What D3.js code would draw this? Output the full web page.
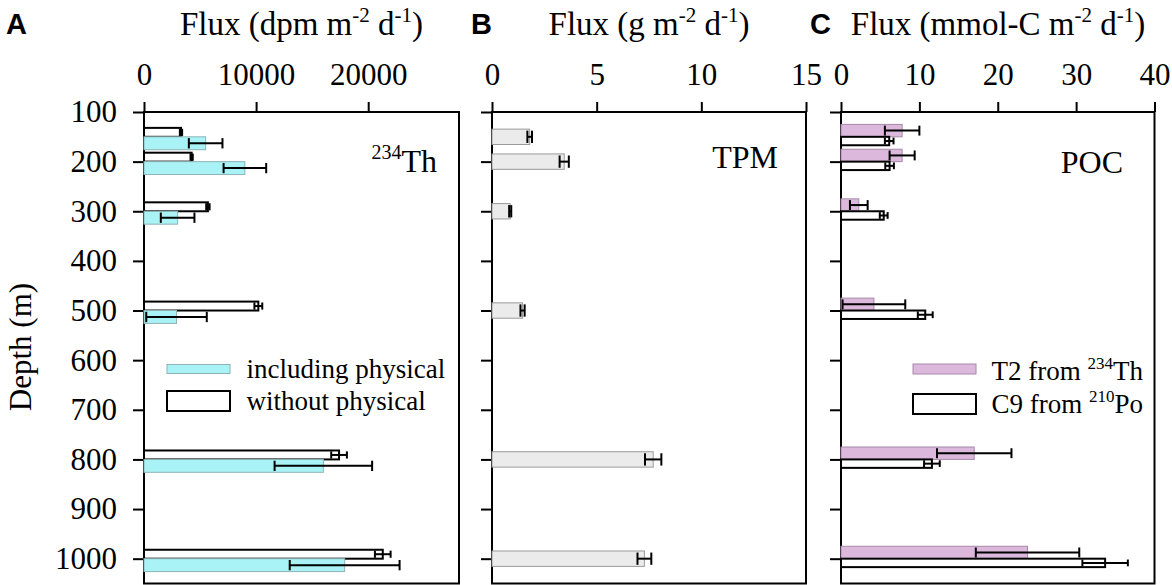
<!DOCTYPE html>
<html>
<head>
<meta charset="utf-8">
<script src="https://cdn.jsdelivr.net/npm/d3@7"></script>
<style>
  body { margin: 0; background: #fff; }
  svg { display: block; }
  text { font-family: "Liberation Serif", "Times New Roman", serif; fill: #000; }
  text.letter { font-family: "Liberation Sans", Arial, sans-serif; font-weight: bold; }
</style>
</head>
<body>
<svg id="chart" width="1172" height="585"></svg>
<script>
// depths (m) where fluxes were measured
var depths = [150, 200, 300, 500, 800, 1000];

// A: 234Th flux (dpm m-2 d-1)
var thIncl = [5500, 9000, 3000, 2900, 16000, 17900];
var thInclErr = [1500, 1900, 1500, 2700, 4350, 4900];
var thWithout = [3300, 4250, 5700, 10200, 17400, 21300];
var thWithoutErr = [100, 100, 150, 350, 700, 700];

// B: TPM flux (g m-2 d-1)
var tpm = [1.8, 3.45, 0.87, 1.46, 7.7, 7.28];
var tpmErr = [0.11, 0.22, 0.05, 0.1, 0.39, 0.33];

// C: POC flux (mmol-C m-2 d-1)
var pocT2 = [7.8, 7.8, 2.27, 4.2, 17.0, 23.8];
var pocT2Err = [2.2, 1.6, 1.13, 4.0, 4.75, 6.6];
var pocC9 = [6.15, 6.2, 5.45, 10.75, 11.6, 33.7];
var pocC9Err = [0.55, 0.55, 0.5, 0.95, 1.0, 2.9];

// tick labels
var depthTicks = [100, 200, 300, 400, 500, 600, 700, 800, 900, 1000];
var thTicks = [0, 10000, 20000];
var tpmTicks = [0, 5, 10, 15];
var pocTicks = [0, 10, 20, 30, 40];

var svg = d3.select("#chart");

var plotTop = 112, plotBottom = 583.5;
var yScale = d3.scaleLinear()
  .domain([100, 1050])
  .range([plotTop, plotBottom]);

var xA = d3.scaleLinear().domain([0, 28100]).range([144, 459]);
var xB = d3.scaleLinear().domain([0, 15]).range([492, 806]);
var xC = d3.scaleLinear().domain([0, 40]).range([841, 1154.5]);

function styleAxis(g) {
  g.select(".domain").remove();
  g.attr("font-family", null).attr("font-size", null);
  g.selectAll("line").attr("stroke", "#000").attr("stroke-width", 2);
  g.selectAll("text").attr("font-size", "31px");
}

function drawAxes(x, ticks, showDepth) {
  svg.append("g")
    .attr("transform", "translate(0," + plotTop + ")")
    .call(d3.axisTop(x).tickValues(ticks).tickSize(10).tickPadding(17).tickFormat(d3.format("d")))
    .call(styleAxis);

  var yAxis = d3.axisLeft(yScale).tickValues(depthTicks).tickSize(11).tickPadding(16)
    .tickFormat(showDepth ? d3.format("d") : "");
  svg.append("g")
    .attr("transform", "translate(" + x.range()[0] + ",0)")
    .call(yAxis)
    .call(styleAxis);

  svg.append("rect")
    .attr("x", x.range()[0])
    .attr("y", plotTop)
    .attr("width", x.range()[1] - x.range()[0])
    .attr("height", plotBottom - plotTop)
    .attr("fill", "none")
    .attr("stroke", "#000")
    .attr("stroke-width", 2);
}

// bars span depth+off0 .. depth+off1, error bar drawn through the middle
function drawBars(x, values, errs, off0, off1, fill, stroke, sw) {
  var rows = depths.map(function(d, i) {
    return {depth: d, v: values[i], e: errs[i]};
  });
  var g = svg.append("g");
  g.selectAll("rect")
    .data(rows)
    .enter().append("rect")
      .attr("x", x(0))
      .attr("y", function(d) { return yScale(d.depth + off0); })
      .attr("width", function(d) { return x(d.v) - x(0); })
      .attr("height", function(d) { return yScale(d.depth + off1) - yScale(d.depth + off0); })
      .attr("fill", fill)
      .attr("stroke", stroke)
      .attr("stroke-width", sw);

  var half = (yScale(off1) - yScale(off0)) * 0.4;
  var err = svg.append("g")
    .attr("stroke", "#000")
    .attr("stroke-width", 2);
  rows.forEach(function(d) {
    var cy = yScale(d.depth + (off0 + off1) / 2);
    var lo = x(Math.max(0, d.v - d.e)), hi = x(d.v + d.e);
    err.append("line").attr("x1", lo).attr("x2", hi).attr("y1", cy).attr("y2", cy);
    err.append("line").attr("x1", lo).attr("x2", lo).attr("y1", cy - half).attr("y2", cy + half);
    err.append("line").attr("x1", hi).attr("x2", hi).attr("y1", cy - half).attr("y2", cy + half);
  });
}

// text with superscripts: parts = [[text, isSup], ...]
function richText(x, y, size, anchor, parts) {
  var t = svg.append("text")
    .attr("x", x)
    .attr("y", y)
    .attr("font-size", size + "px")
    .attr("text-anchor", anchor);
  var raised = false;
  parts.forEach(function(p) {
    var s = t.append("tspan").text(p[0]);
    if (p[1] && !raised) {
      s.attr("font-size", Math.round(size * 0.64) + "px").attr("dy", -size * 0.4);
      raised = true;
    } else if (p[1]) {
      s.attr("font-size", Math.round(size * 0.64) + "px");
    } else if (raised) {
      s.attr("dy", size * 0.4);
      raised = false;
    }
  });
  return t;
}

function panelLetter(x, label) {
  svg.append("text")
    .attr("class", "letter")
    .attr("x", x)
    .attr("y", 34)
    .attr("font-size", "29px")
    .text(label);
}

// ---------- Panel A ----------
drawAxes(xA, thTicks, true);
drawBars(xA, thWithout, thWithoutErr, -18, 0, "#fff", "#000", 2);
drawBars(xA, thIncl, thInclErr, 0, 26, "#a9f2f5", "#8fb3b5", 1);
panelLetter(6, "A");
richText(301.5, 35, 33, "middle", [["Flux (dpm m", false], ["-2", true], [" d", false], ["-1", true], [")", false]]);
richText(437, 172, 32, "end", [["234", true], ["Th", false]]);

// legend A
svg.append("rect").attr("x", 167).attr("y", 364.5).attr("width", 63).attr("height", 9)
  .attr("fill", "#a9f2f5").attr("stroke", "#8fb3b5").attr("stroke-width", 1);
svg.append("rect").attr("x", 167).attr("y", 391).attr("width", 63).attr("height", 20)
  .attr("fill", "#fff").attr("stroke", "#000").attr("stroke-width", 2);
richText(246.5, 378, 27, "start", [["including physical", false]]);
richText(246.5, 410, 27, "start", [["without physical", false]]);

// y axis label
svg.append("text")
  .attr("transform", "translate(31,347) rotate(-90)")
  .attr("text-anchor", "middle")
  .attr("font-size", "31px")
  .text("Depth (m)");

// ---------- Panel B ----------
drawAxes(xB, tpmTicks, false);
drawBars(xB, tpm, tpmErr, -15.5, 15.5, "#ebebeb", "#9a9a9a", 1);
panelLetter(471, "B");
richText(649, 35, 33, "middle", [["Flux (g m", false], ["-2", true], [" d", false], ["-1", true], [")", false]]);
richText(778, 168, 32, "end", [["TPM", false]]);

// ---------- Panel C ----------
drawAxes(xC, pocTicks, false);
drawBars(xC, pocT2, pocT2Err, -25, 0, "#dbb8dc", "#a88aa9", 1);
drawBars(xC, pocC9, pocC9Err, 0, 17, "#fff", "#000", 2);
panelLetter(810, "C");
richText(998, 35, 33, "middle", [["Flux (mmol-C m", false], ["-2", true], [" d", false], ["-1", true], [")", false]]);
richText(1123, 173, 32, "end", [["POC", false]]);

// legend C
svg.append("rect").attr("x", 913).attr("y", 364).attr("width", 63).attr("height", 10)
  .attr("fill", "#dbb8dc").attr("stroke", "#a88aa9").attr("stroke-width", 1);
svg.append("rect").attr("x", 913).attr("y", 394).attr("width", 63).attr("height", 20)
  .attr("fill", "#fff").attr("stroke", "#000").attr("stroke-width", 2);
richText(991.5, 380, 27, "start", [["T2 from ", false], ["234", true], ["Th", false]]);
richText(991.5, 413, 27, "start", [["C9 from ", false], ["210", true], ["Po", false]]);
</script>
</body>
</html>
